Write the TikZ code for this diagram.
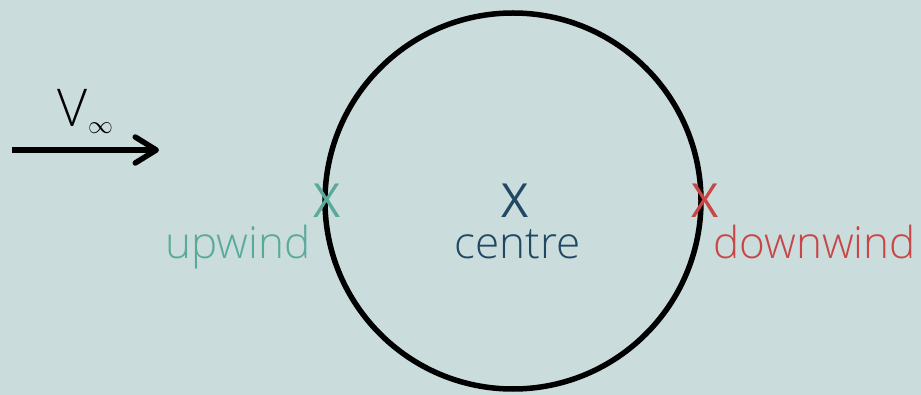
\documentclass[tikz,border=0pt]{standalone}
\usepackage{fontspec}
\setmainfont{Open Sans Light}
\newfontfamily\xfont{Open Sans}
\usetikzlibrary{arrows.meta}
\definecolor{bg}{HTML}{CBDCDC}
\definecolor{upc}{HTML}{5AAA9C}
\definecolor{cenc}{HTML}{1F4863}
\definecolor{downc}{HTML}{C84646}
\begin{document}
\begin{tikzpicture}[x=1pt,y=-1pt,
  lbl/.style={inner sep=0pt, font=\fontsize{44}{44}\selectfont},
  xmark/.style={inner sep=0pt, font=\xfont\fontsize{47}{47}\selectfont}]
\fill[bg] (0,0) rectangle (921,395);
\useasboundingbox (0,0) rectangle (921,395);
\node[draw, line width=5.5pt, circle, minimum size=376pt, inner sep=0pt] (circ) at (513,201) {};
\coordinate (a0) at (12,150);
\coordinate (a1) at (159,150);
\draw[line width=5.5pt, -{Straight Barb[length=21pt,width=26pt,line cap=round,line join=round]}] (a0) -- (a1);
\node[inner sep=0pt, anchor=base west, font=\fontsize{52}{52}\selectfont] (v) at (57,127) {V\kern1pt\raisebox{-0.12em}{\fontsize{42}{42}\selectfont$\infty$}};
\node[xmark, text=upc] (xu) at (327,201) {X};
\node[xmark, text=cenc] (xc) at (515,201) {X};
\node[xmark, text=downc] (xd) at (705,201) {X};
\node[lbl, text=upc, anchor=base east] (up) at (311,259) {upwind};
\node[lbl, text=cenc, anchor=base] (ce) at (518,259) {centre};
\node[lbl, text=downc, anchor=base west] (dw) at (713,259) {downwind};
\end{tikzpicture}
\end{document}
